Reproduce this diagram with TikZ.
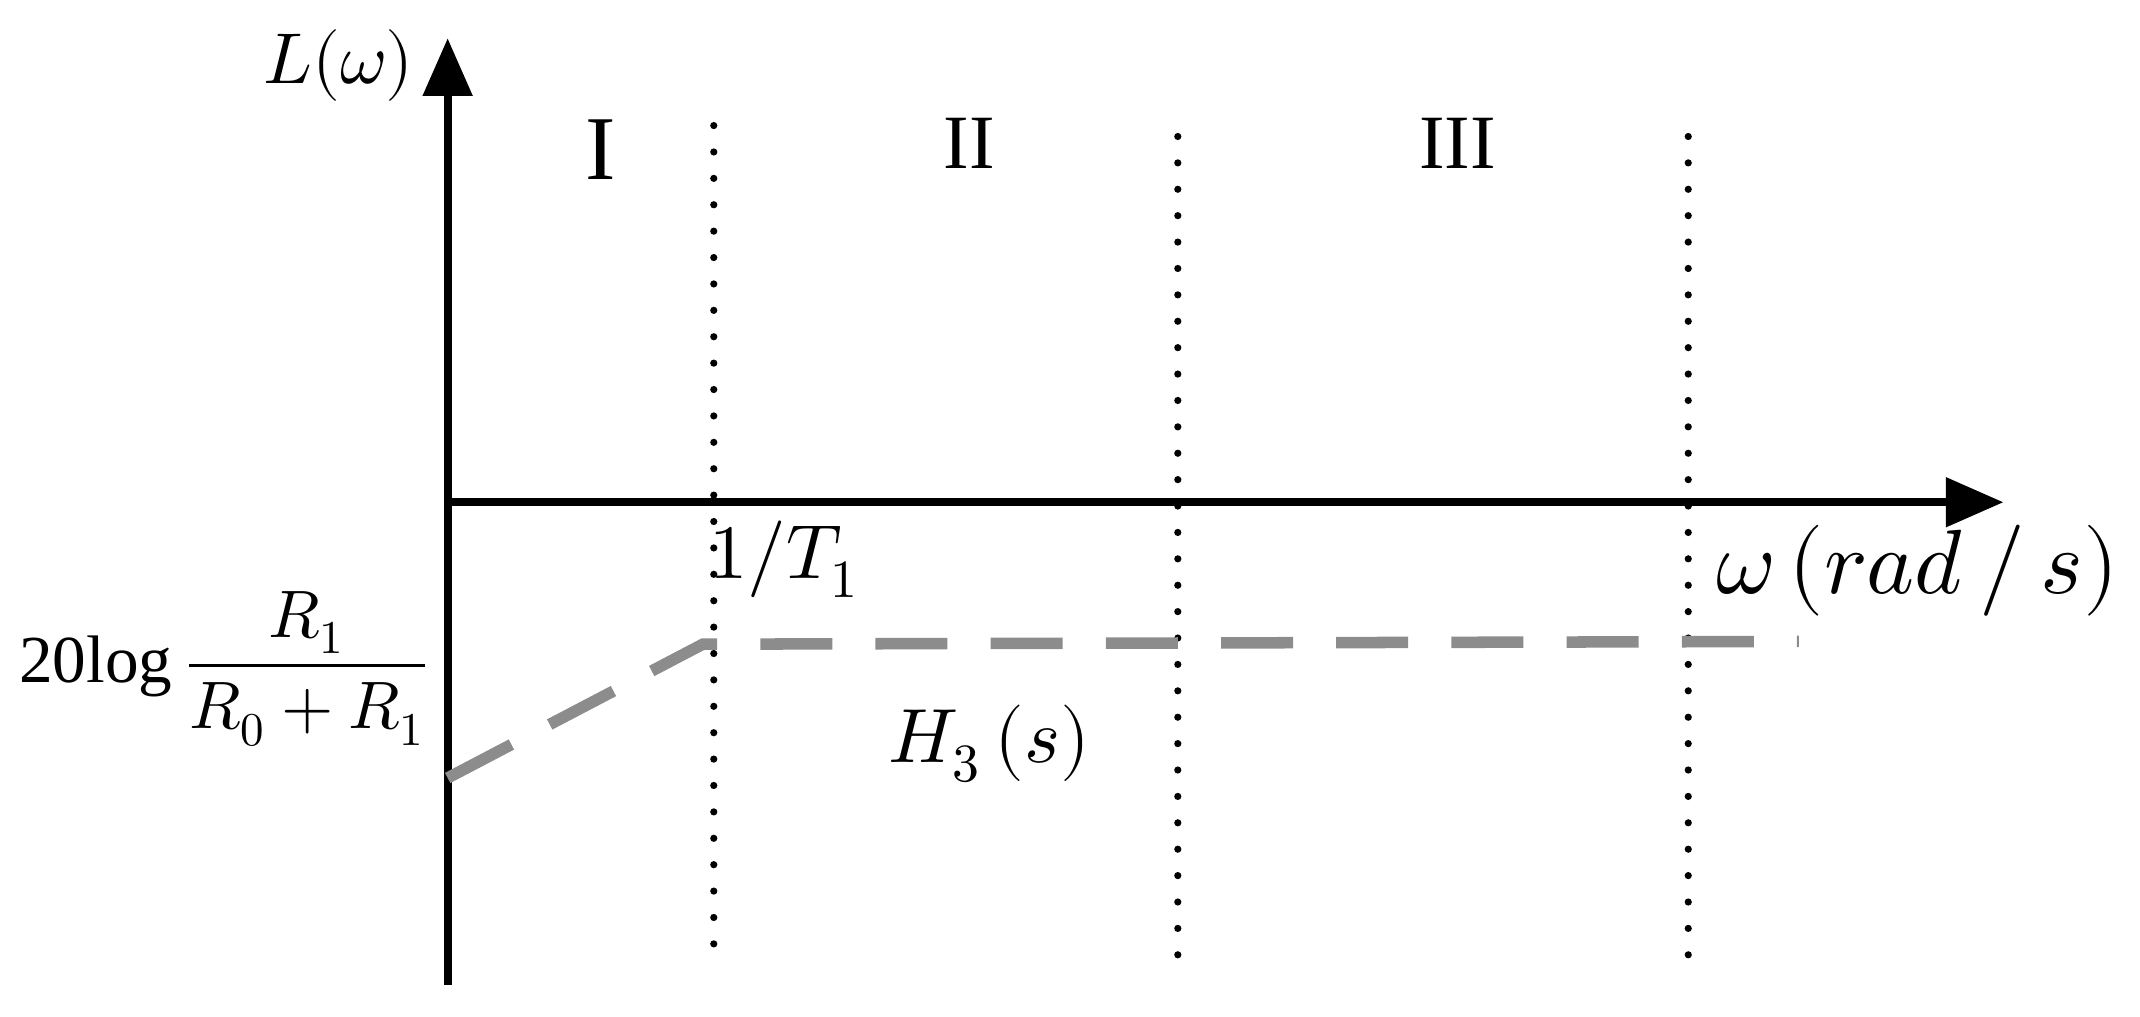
\documentclass[tikz,border=0pt]{standalone}
\usepackage{fontspec}
\setmainfont{Liberation Serif}
\usepackage{unicode-math}
\setmathfont{Latin Modern Math}
\usetikzlibrary{arrows.meta}
\begin{document}
\begin{tikzpicture}[x=0.01cm,y=-0.01cm,
  ax/.style={line width=1.7pt,-{Triangle[length=12pt,width=10pt]}},
  dotl/.style={line width=1.5pt,dash pattern=on 0pt off 5.5pt,line cap=round},
  gr/.style={gray!90,line width=2.4pt,dash pattern=on 15pt off 9pt},
  lbl/.style={inner sep=0pt}]
\useasboundingbox (0,0) rectangle (1568,745);
\coordinate (o) at (328,368);
\coordinate (ybot) at (328,722);
\coordinate (ytop) at (328,28);
\coordinate (xend) at (1468,368);
\draw[ax] (ybot) -- (ytop);
\draw[ax] (o) -- (xend);
\foreach \n/\x/\a/\b in {d1/523/92/692,d2/863/100/700,d3/1237/100/700}{
  \coordinate (\n a) at (\x,\a); \coordinate (\n b) at (\x,\b);
  \draw[dotl] (\n a) -- (\n b);}
\coordinate (g1) at (328,570); \coordinate (g2) at (515,472); \coordinate (g3) at (1318,470);
\draw[gr] (g1) -- (g2) -- (g3);
\node[lbl] (L) at (248,48) {\fontsize{15}{18}\selectfont $L(\omega)$};
\node[lbl] (r1) at (440,110) {\fontsize{19}{22}\selectfont I};
\node[lbl] (r2) at (710,105) {\fontsize{16}{19}\selectfont II};
\node[lbl] (r3) at (1068,105) {\fontsize{16}{19}\selectfont III};
\node[lbl] (T) at (575,410) {\fontsize{16}{19}\selectfont $1/T_1$};
\node[lbl] (w) at (1405,418) {\fontsize{19}{23}\selectfont $\omega\left(rad\,/\,s\right)$};
\node[lbl] (g) at (165,490) {\fontsize{14}{17}\selectfont 20$\log\dfrac{R_1}{R_0+R_1}$};
\node[lbl] (H) at (725,545) {\fontsize{16}{19}\selectfont $H_3\left(s\right)$};
\end{tikzpicture}
\end{document}
